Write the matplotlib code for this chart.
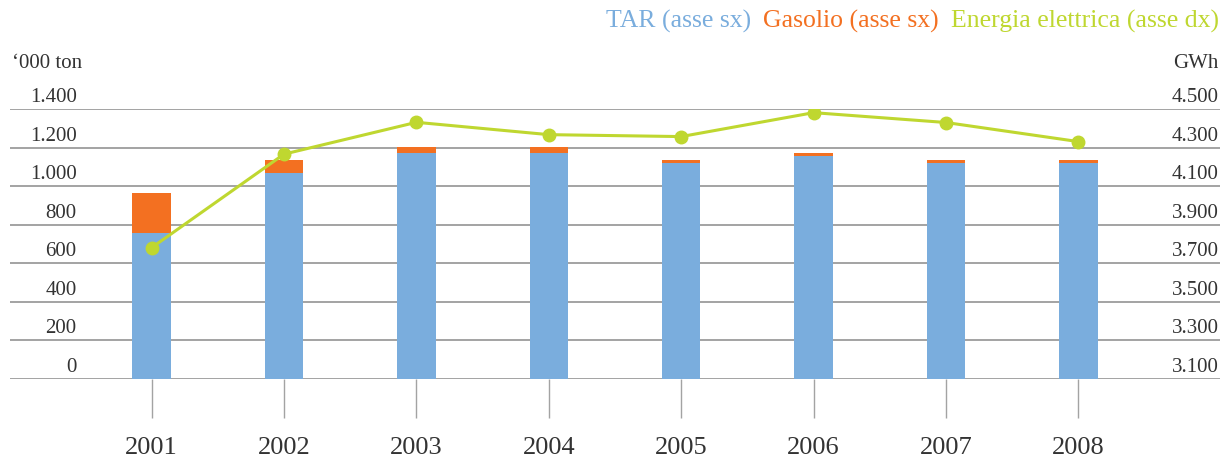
import numpy as np
import matplotlib
matplotlib.use("Agg")
import matplotlib.pyplot as plt
from matplotlib.transforms import ScaledTranslation

# dati
anni = ['2001', '2002', '2003', '2004', '2005', '2006', '2007', '2008']
tar = [755, 1066, 1172, 1172, 1121, 1154, 1118, 1118]          # '000 ton
gasolio = [212, 67, 31, 30, 15, 16, 16, 16]                    # '000 ton
energia = [3781, 4266, 4431, 4367, 4357, 4481, 4430, 4331]     # GWh

left_ticks = [0, 200, 400, 600, 800, 1000, 1200, 1400]
left_labels = ['0', '200', '400', '600', '800', '1.000', '1.200', '1.400']
right_ticks = [3100, 3300, 3500, 3700, 3900, 4100, 4300, 4500]
right_labels = ['3.100', '3.300', '3.500', '3.700', '3.900', '4.100', '4.300', '4.500']

c_tar = '#7AADDD'
c_gas = '#F37021'
c_en = '#BFD730'
c_grid = '#A3A3A3'
c_txt = '#333333'

plt.rcParams['font.family'] = ['Liberation Serif', 'DejaVu Serif']

W, H = 1229, 462
fig = plt.figure(figsize=(W / 100, H / 100), dpi=100)
ax = fig.add_axes([10 / W, (H - 379) / H, 1210 / W, 270 / H])

x = np.arange(len(anni))
ax.bar(x, tar, width=0.29, color=c_tar, zorder=2)
ax.bar(x, gasolio, width=0.29, bottom=tar, color=c_gas, zorder=2)

ax.set_xlim(-1.07, len(anni) - 1 + 1.07)
ax.set_ylim(0, 1400)
ax.set_yticks(left_ticks)
ax.set_yticklabels(left_labels, fontsize=15, color=c_txt)
ax.yaxis.grid(True, color=c_grid, linewidth=1.4, zorder=0)
ax.set_axisbelow(True)
ax.tick_params(axis='y', length=0, pad=-48)
for s in ax.spines.values():
    s.set_visible(False)

ax.set_xticks(x)
ax.set_xticklabels(anni, fontsize=19, color=c_txt)
ax.tick_params(axis='x', direction='out', length=28, width=1, color=c_grid, pad=14)

off = ScaledTranslation(0, 0.14, fig.dpi_scale_trans)
for lab in ax.get_yticklabels():
    lab.set_transform(lab.get_transform() + off)

ax2 = ax.twinx()
ax2.plot(x, energia, color=c_en, linewidth=2.2, marker='o', markersize=9, zorder=3)
ax2.set_ylim(3100, 4500)
ax2.set_yticks(right_ticks)
ax2.set_yticklabels(right_labels, fontsize=15, color=c_txt)
ax2.tick_params(axis='y', length=0, pad=-1)
for lab in ax2.get_yticklabels():
    lab.set_horizontalalignment('right')
    lab.set_transform(lab.get_transform() + off)
for s in ax2.spines.values():
    s.set_visible(False)

# unità
fig.text(12 / W, 1 - 63 / H, '\u2018000 ton', fontsize=15, color=c_txt, ha='left', va='center')
fig.text(1219 / W, 1 - 63 / H, 'GWh', fontsize=15, color=c_txt, ha='right', va='center')

# legenda testuale
xr = 1219
yl = 1 - 21 / H
t3 = fig.text(xr / W, yl, 'Energia elettrica (asse dx)', fontsize=18.5, color=c_en, ha='right', va='center')
fig.canvas.draw()
bb = t3.get_window_extent()
t2 = fig.text((bb.x0 - 12) / W, yl, 'Gasolio (asse sx)', fontsize=18.5, color=c_gas, ha='right', va='center')
bb = t2.get_window_extent()
fig.text((bb.x0 - 12) / W, yl, 'TAR (asse sx)', fontsize=18.5, color=c_tar, ha='right', va='center')

fig.savefig('out.png', dpi=100)
